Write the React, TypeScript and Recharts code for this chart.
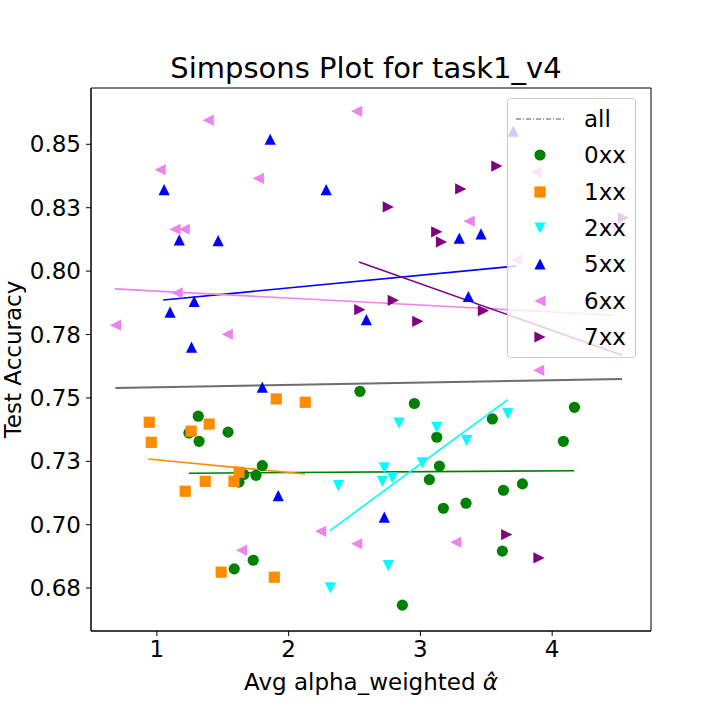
import React from "react";
import {
  ScatterChart,
  Scatter,
  XAxis,
  YAxis,
  ReferenceLine,
  ReferenceArea,
  Legend,
  Label,
} from "recharts";

type Pt = { x: number; y: number };

const xTicks = [1, 2, 3, 4];
const yTicks = [0.675, 0.7, 0.725, 0.75, 0.775, 0.8, 0.825, 0.85];
const yTickLabels = ["0.68", "0.70", "0.73", "0.75", "0.78", "0.80", "0.83", "0.85"];
const xDomain: [number, number] = [0.5, 4.75];
const yDomain: [number, number] = [0.6581, 0.8722];

const points0xx: Pt[] = [
  { x: 2.541, y: 0.7526 }, { x: 1.314, y: 0.7428 }, { x: 1.243, y: 0.7362 },
  { x: 1.54, y: 0.7365 }, { x: 1.32, y: 0.7329 }, { x: 1.8, y: 0.7233 },
  { x: 1.66, y: 0.7198 }, { x: 1.752, y: 0.7195 }, { x: 1.623, y: 0.7168 },
  { x: 1.731, y: 0.686 }, { x: 1.587, y: 0.6826 }, { x: 2.954, y: 0.7478 },
  { x: 4.169, y: 0.7463 }, { x: 3.546, y: 0.7417 }, { x: 3.124, y: 0.7345 },
  { x: 4.085, y: 0.7329 }, { x: 3.144, y: 0.7231 }, { x: 3.068, y: 0.7178 },
  { x: 3.63, y: 0.7136 }, { x: 3.774, y: 0.7161 }, { x: 3.174, y: 0.7065 },
  { x: 3.346, y: 0.7085 }, { x: 3.622, y: 0.6896 }, { x: 2.863, y: 0.6683 },
];

const points1xx: Pt[] = [
  { x: 1.906, y: 0.7496 }, { x: 2.126, y: 0.7483 }, { x: 0.942, y: 0.7404 },
  { x: 1.397, y: 0.7397 }, { x: 1.26, y: 0.7369 }, { x: 0.957, y: 0.7325 },
  { x: 1.623, y: 0.7207 }, { x: 1.585, y: 0.7171 }, { x: 1.367, y: 0.7171 },
  { x: 1.215, y: 0.7132 }, { x: 1.488, y: 0.6813 }, { x: 1.891, y: 0.6793 },
];

const points2xx: Pt[] = [
  { x: 2.837, y: 0.7401 }, { x: 3.663, y: 0.7438 }, { x: 3.124, y: 0.7384 },
  { x: 3.351, y: 0.7332 }, { x: 2.377, y: 0.7154 }, { x: 2.316, y: 0.6751 },
  { x: 2.726, y: 0.7224 }, { x: 2.711, y: 0.7171 }, { x: 2.787, y: 0.7185 },
  { x: 3.014, y: 0.7244 }, { x: 2.756, y: 0.6839 },
];

const points5xx: Pt[] = [
  { x: 1.86, y: 0.852 }, { x: 1.055, y: 0.8321 }, { x: 2.285, y: 0.8321 },
  { x: 1.17, y: 0.8123 }, { x: 1.465, y: 0.812 }, { x: 3.705, y: 0.8552 },
  { x: 3.295, y: 0.813 }, { x: 3.46, y: 0.8147 }, { x: 1.283, y: 0.7881 },
  { x: 1.1, y: 0.7838 }, { x: 2.59, y: 0.7809 }, { x: 1.263, y: 0.77 },
  { x: 1.8, y: 0.7542 }, { x: 3.364, y: 0.79 }, { x: 1.921, y: 0.7115 },
  { x: 2.726, y: 0.703 },
];

const points6xx: Pt[] = [
  { x: 1.39, y: 0.8595 }, { x: 2.516, y: 0.863 }, { x: 1.025, y: 0.84 },
  { x: 1.77, y: 0.8366 }, { x: 1.137, y: 0.8165 }, { x: 1.207, y: 0.8165 },
  { x: 3.88, y: 0.839 }, { x: 3.37, y: 0.8197 }, { x: 4.44, y: 0.818 },
  { x: 3.73, y: 0.8045 }, { x: 1.154, y: 0.7914 }, { x: 0.686, y: 0.7787 },
  { x: 1.534, y: 0.7751 }, { x: 3.897, y: 0.7609 }, { x: 2.243, y: 0.6974 },
  { x: 2.516, y: 0.6925 }, { x: 1.643, y: 0.6899 }, { x: 3.268, y: 0.6931 },
];

const points7xx: Pt[] = [
  { x: 3.58, y: 0.8414 }, { x: 3.306, y: 0.8324 }, { x: 2.756, y: 0.8253 },
  { x: 3.124, y: 0.8155 }, { x: 3.16, y: 0.8115 }, { x: 4.54, y: 0.821 },
  { x: 2.54, y: 0.7848 }, { x: 2.794, y: 0.7885 }, { x: 3.478, y: 0.7844 },
  { x: 2.98, y: 0.7802 }, { x: 3.655, y: 0.6961 }, { x: 3.9, y: 0.6869 },
];

// fitted trend lines, endpoints
const fitAll: Pt[] = [{ x: 0.685, y: 0.7539 }, { x: 4.53, y: 0.7575 }];
const fit0xx: Pt[] = [{ x: 1.243, y: 0.7203 }, { x: 4.166, y: 0.7213 }];
const fit1xx: Pt[] = [{ x: 0.934, y: 0.7259 }, { x: 2.124, y: 0.72 }];
const fit2xx: Pt[] = [{ x: 2.314, y: 0.6977 }, { x: 3.663, y: 0.7493 }];
const fit5xx: Pt[] = [{ x: 1.048, y: 0.7886 }, { x: 3.73, y: 0.802 }];
const fit6xx: Pt[] = [{ x: 0.681, y: 0.793 }, { x: 4.466, y: 0.7826 }];
const fit7xx: Pt[] = [{ x: 2.534, y: 0.8036 }, { x: 4.533, y: 0.7668 }];

type Marker = "circle" | "square" | "down" | "up" | "left" | "right";

const R = 5.6;
const FS = 23;

const markerPath = (m: Marker, cx: number, cy: number, color: string) => {
  if (m === "circle") return <circle cx={cx} cy={cy} r={R} fill={color} />;
  if (m === "square")
    return <rect x={cx - R} y={cy - R} width={2 * R} height={2 * R} fill={color} />;
  let pts: number[][] = [];
  if (m === "up") pts = [[cx, cy - R], [cx - R, cy + R], [cx + R, cy + R]];
  if (m === "down") pts = [[cx, cy + R], [cx - R, cy - R], [cx + R, cy - R]];
  if (m === "left") pts = [[cx - R, cy], [cx + R, cy - R], [cx + R, cy + R]];
  if (m === "right") pts = [[cx + R, cy], [cx - R, cy - R], [cx - R, cy + R]];
  return <polygon points={pts.map((p) => p.join(",")).join(" ")} fill={color} />;
};

const groups = [
  { name: "0xx", data: points0xx, fit: fit0xx, color: "#008000", marker: "circle" as Marker },
  { name: "1xx", data: points1xx, fit: fit1xx, color: "#ff8c00", marker: "square" as Marker },
  { name: "2xx", data: points2xx, fit: fit2xx, color: "#00ffff", marker: "down" as Marker },
  { name: "5xx", data: points5xx, fit: fit5xx, color: "#0000ff", marker: "up" as Marker },
  { name: "6xx", data: points6xx, fit: fit6xx, color: "#ee82ee", marker: "left" as Marker },
  { name: "7xx", data: points7xx, fit: fit7xx, color: "#800080", marker: "right" as Marker },
];

const renderLegend = () => (
  <div
    style={{
      position: "relative",
      width: 127,
      height: 258,
      border: "1px solid #cccccc",
      borderRadius: 4,
      background: "rgba(255,255,255,0.8)",
      fontSize: FS,
      color: "#000",
    }}
  >
    {[{ name: "all" }, ...groups].map((g: any, i) => (
      <div
        key={g.name}
        style={{
          position: "absolute",
          left: 0,
          top: 2 + i * 36.3,
          height: 36.3,
          width: 127,
          display: "flex",
          alignItems: "center",
        }}
      >
        <svg width={60} height={24} style={{ marginLeft: 2 }}>
          {g.marker ? (
            markerPath(g.marker, 30, 12, g.color)
          ) : (
            <line x1={6} y1={12} x2={54} y2={12} stroke="#555" strokeWidth={1} strokeDasharray="5,2,1,2" />
          )}
        </svg>
        <span style={{ marginLeft: 14 }}>{g.name}</span>
      </div>
    ))}
  </div>
);

const XLabel = (props: any) => {
  const vb = props.viewBox;
  return (
    <text x={vb.x + vb.width / 2} y={690} textAnchor="middle" fontSize={FS} fill="#000">
      Avg alpha_weighted <tspan fontStyle="italic">α̂</tspan>
    </text>
  );
};

const YLabel = (props: any) => {
  const vb = props.viewBox;
  const cy = vb.y + vb.height / 2;
  return (
    <text x={21} y={cy} textAnchor="middle" fontSize={FS} fill="#000" transform={`rotate(-90, 21, ${cy})`}>
      Test Accuracy
    </text>
  );
};

export default function App() {
  return (
    <div
      style={{
        position: "absolute",
        left: 0,
        top: 0,
        width: 720,
        height: 720,
        background: "#fff",
        fontFamily: "'DejaVu Sans', sans-serif",
      }}
    >
      <div
        style={{
          position: "absolute",
          left: 86,
          top: 52,
          width: 560,
          textAlign: "center",
          fontSize: 29,
          lineHeight: "32px",
          color: "#000",
        }}
      >
        Simpsons Plot for task1_v4
      </div>
      <ScatterChart width={720} height={720} margin={{ top: 88, right: 69, bottom: 0, left: 0 }}>
        <XAxis
          type="number"
          dataKey="x"
          domain={xDomain}
          ticks={xTicks}
          allowDataOverflow
          height={89}
          tickSize={5}
          tickMargin={5}
          tick={{ fill: "#000", fontSize: FS }}
          stroke="#000"
        >
          <Label content={<XLabel />} />
        </XAxis>
        <YAxis
          type="number"
          dataKey="y"
          domain={yDomain}
          ticks={yTicks}
          allowDataOverflow
          width={91}
          tickSize={5}
          tickMargin={5}
          tick={{ fill: "#000", fontSize: FS }}
          tickFormatter={(v: number) => yTickLabels[yTicks.indexOf(v)] ?? String(v)}
          stroke="#000"
        >
          <Label content={<YLabel />} />
        </YAxis>
        <ReferenceArea
          x1={xDomain[0]}
          x2={xDomain[1]}
          y1={yDomain[0]}
          y2={yDomain[1]}
          fill="none"
          stroke="#000"
          fillOpacity={0}
        />
        <ReferenceLine segment={fitAll} stroke="#6e6e6e" strokeWidth={2} />
        {groups.map((g) => (
          <Scatter
            key={g.name}
            name={g.name}
            data={g.data}
            fill={g.color}
            isAnimationActive={false}
            shape={(p: any) => markerPath(g.marker, p.cx, p.cy, g.color)}
          />
        ))}
        {groups.map((g) => (
          <ReferenceLine key={"fit" + g.name} segment={g.fit} stroke={g.color} strokeWidth={1.6} />
        ))}
        <Legend
          layout="vertical"
          align="center"
          verticalAlign="middle"
          content={renderLegend}
          wrapperStyle={{ left: 507, top: 98, width: 129, height: 260 }}
        />
      </ScatterChart>
    </div>
  );
}
